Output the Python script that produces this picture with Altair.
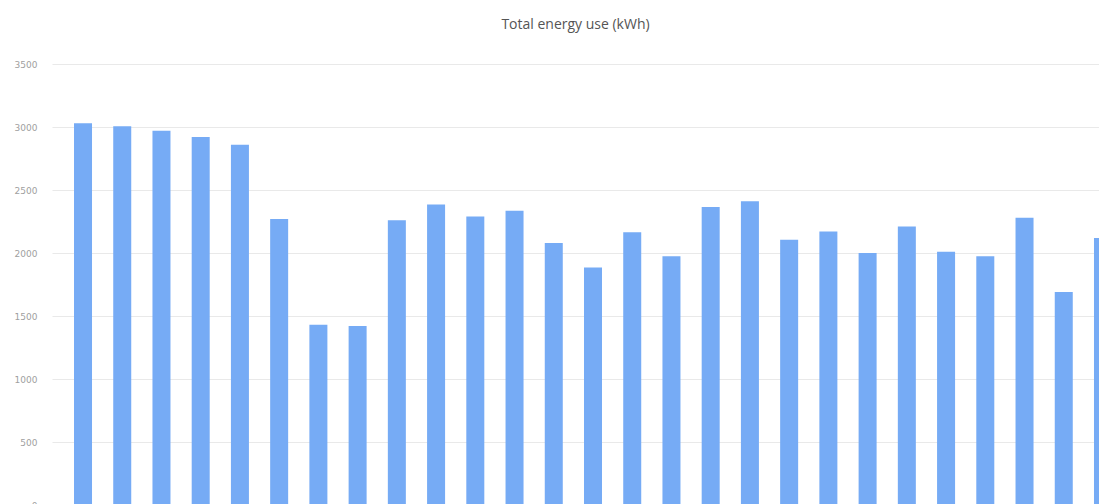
import altair as alt
import pandas as pd

periods = [str(i) for i in range(1, 28)]
energy_kwh = [3030, 3005, 2970, 2920, 2860, 2270, 1430, 1420, 2260, 2385,
              2290, 2335, 2080, 1885, 2165, 1975, 2365, 2410, 2105, 2170,
              2000, 2210, 2010, 1975, 2280, 1690, 2120]
y_ticks = [0, 500, 1000, 1500, 2000, 2500, 3000, 3500]

df = pd.DataFrame({"period": periods, "energy": energy_kwh})

chart = alt.Chart(df).mark_bar(color="#76abf5").encode(
    x=alt.X("period:N", sort=periods,
            scale=alt.Scale(range=[0, 1082], paddingInner=0.541, paddingOuter=0.561),
            axis=alt.Axis(title=None, labels=False, ticks=False, domain=False, grid=False)),
    y=alt.Y("energy:Q",
            scale=alt.Scale(domain=[0, 3500], range=[441, 0], nice=False),
            axis=alt.Axis(title=None, values=y_ticks, format="d", ticks=False, domain=False,
                          labelFontSize=9, labelColor="#a0a0a0", labelFont="DejaVu Sans",
                          labelPadding=15, gridColor="#e9e9e9", gridWidth=1)),
).properties(
    width=1047,
    height=440,
    title=alt.TitleParams("Total energy use (kWh)", anchor="middle", fontSize=14,
                          font="Open Sans", fontWeight="normal", color="#555555",
                          baseline="alphabetic", offset=17),
    autosize=alt.AutoSizeParams(type="none"),
    padding={"left": 44, "top": 56, "right": 0, "bottom": 0},
).configure_view(stroke=None, clip=False)

chart.save("out.html", embed_options={"renderer": "svg", "actions": False})
